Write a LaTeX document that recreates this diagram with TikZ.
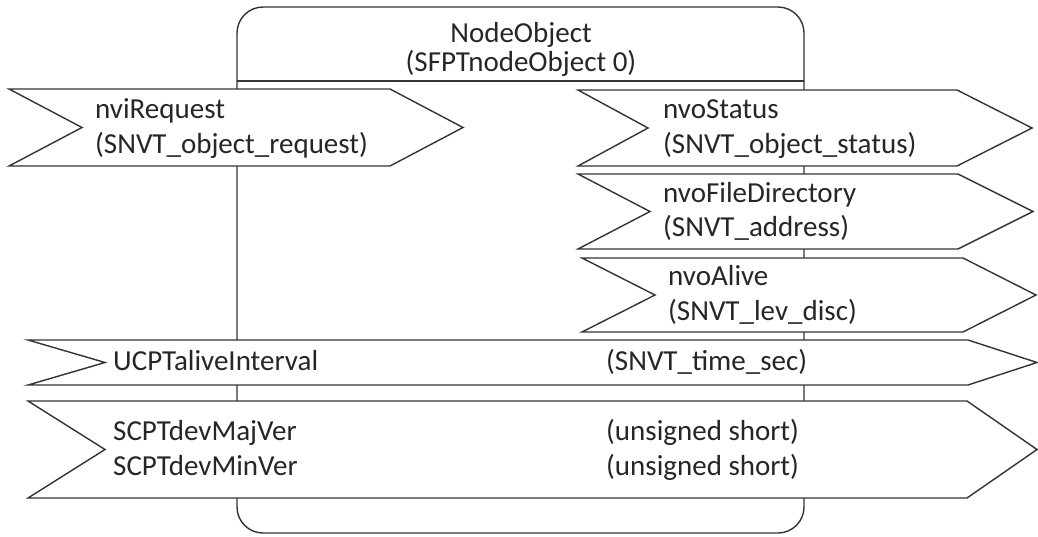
\documentclass[tikz,border=0pt]{standalone}
\usepackage{fontspec}
\setmainfont{Carlito}
\usepackage{tikz}
\def\flag(#1:#2:#3:#4:#5:#6){\draw[flagline] (#1,#2) -- (#5,#2) -- (#6,{(#2+#3)/2}) -- (#5,#3) -- (#1,#3) -- (#4,{(#2+#3)/2}) -- cycle;}
\tikzset{
  flagline/.style={line width=1.4pt, draw=black!80, fill=white, line join=miter},
  lbl/.style={anchor=base west, inner sep=0pt, text=black!85, font=\fontsize{29}{35}\selectfont},
  ttl/.style={anchor=base, inner sep=0pt, text=black!85, font=\fontsize{29}{35}\selectfont}
}

\begin{document}
\begin{tikzpicture}[x=1pt, y=-1pt]
			%%%%% START %%%%%
			\useasboundingbox (0,0) rectangle (1038,536);
			
			\draw[line width=1.4pt, draw=black!80, rounded corners=26pt] (237,7) rectangle (804,533);
			\draw[line width=1.4pt, draw=black!80] (237,81) -- (804,81);
			\node[ttl] (title) at (521,42) {NodeObject};
			\node[ttl] (titletype) at (521,71) {(SFPTnodeObject 0)};
			
			\flag(9:89:166:82:390:463)
			\node[lbl] (nvi) at (95,118) {nviRequest};
			\node[lbl] (nvitype) at (95,153) {(SNVT\_object\_request)};
			
			\flag(578:90:166:648:957:1032)
			\node[lbl] (nvostatus) at (663,118) {nvoStatus};
			\node[lbl] (nvostatustype) at (663,153) {(SNVT\_object\_status)};
			
			\flag(578:174:249:650:958:1033)
			\node[lbl] (nvofile) at (663,202) {nvoFileDirectory};
			\node[lbl] (nvofiletype) at (663,236) {(SNVT\_address)};
			
			\flag(582:258:332:655:963:1036)
			\node[lbl] (nvoalive) at (668,285) {nvoAlive};
			\node[lbl] (nvoalivetype) at (668,320) {(SNVT\_lev\_disc)};
			
			\flag(28:340:385:105:968:1037)
			\node[lbl] (ucpt) at (113,370) {UCPTaliveInterval};
			\node[lbl] (ucpttype) at (606,370) {(SNVT\_time\_sec)};
			
			\flag(28:401:498:105:967:1037)
			\node[lbl] (scptmaj) at (113,440) {SCPTdevMajVer};
			\node[lbl] (scptmin) at (113,475) {SCPTdevMinVer};
			\node[lbl] (scptmajtype) at (606,440) {(unsigned short)};
			\node[lbl] (scptmintype) at (606,475) {(unsigned short)};
			
			%%%%% END %%%%%
\end{tikzpicture}
\end{document}
